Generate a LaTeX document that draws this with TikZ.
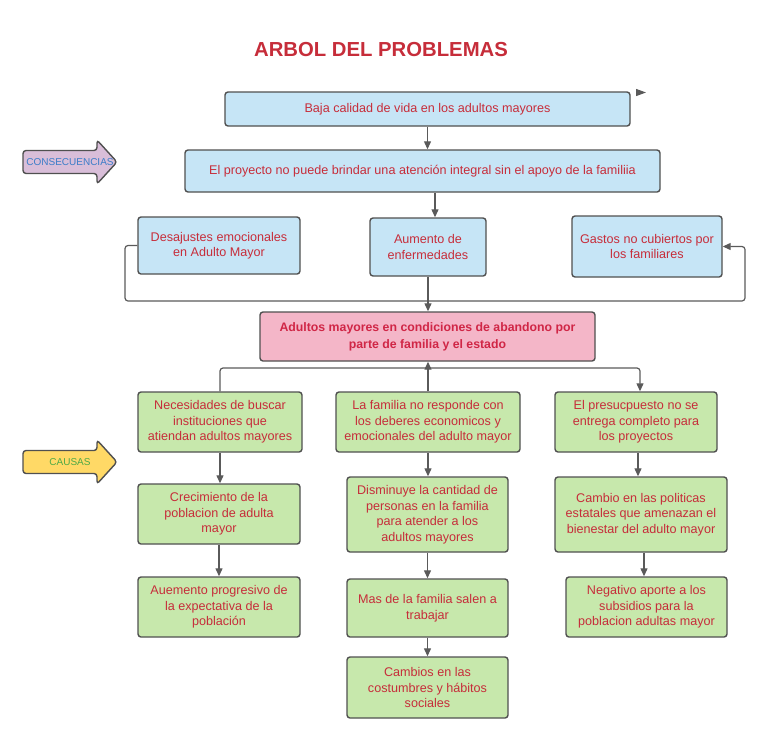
\documentclass[tikz,border=0pt]{standalone}
\usepackage{fontspec}
\setmainfont{Liberation Sans}
\usetikzlibrary{arrows.meta}

\definecolor{txtred}{RGB}{198,45,58}
\definecolor{pinktxt}{RGB}{208,38,70}
\definecolor{boxline}{RGB}{80,80,80}
\definecolor{connline}{RGB}{90,90,90}
\definecolor{bluefill}{RGB}{198,229,246}
\definecolor{pinkfill}{RGB}{244,182,200}
\definecolor{greenfill}{RGB}{199,232,172}
\definecolor{consfill}{RGB}{217,190,217}
\definecolor{constext}{RGB}{60,125,200}
\definecolor{causfill}{RGB}{255,217,102}
\definecolor{caustext}{RGB}{80,170,70}

\begin{document}
\begin{tikzpicture}[x=1pt, y=-1pt,
    box/.style={draw=boxline, line width=1.4pt, rounded corners=3pt, inner sep=0pt,
      align=center, text=txtred, font=\fontsize{12.6}{15.5}\selectfont},
    bluebox/.style={box, fill=bluefill},
    greenbox/.style={box, fill=greenfill},
    pinkbox/.style={box, fill=pinkfill, text=pinktxt, font=\bfseries\fontsize{12.3}{17}\selectfont},
    conn/.style={draw=connline, line width=1.2pt, -{Triangle[length=8pt,width=7pt]}}]
  \useasboundingbox (0,0) rectangle (768,740);

  \node[text=txtred, font=\bfseries\fontsize{20.3}{24}\selectfont] (title) at (381,50) {ARBOL DEL PROBLEMAS};

  % consecuencias
  \foreach \nm/\xc/\yc/\w/\h/\txt in {
      b1/427.5/109/405/34/{Baja calidad de vida en los adultos mayores},
      b2/422.5/171/475/42/{El proyecto no puede brindar una atención integral sin el apoyo de la familiia},
      b3/219/245.5/162/57/{Desajustes emocionales\\en Adulto Mayor},
      b4/428/247/116/58/{Aumento de\\enfermedades},
      b5/647/246.5/150/61/{Gastos no cubiertos por\\los familiares}} {
    \node[bluebox, minimum width=\w pt, minimum height=\h pt] (\nm) at (\xc,\yc) {\txt};
  }

  \node[pinkbox, minimum width=335pt, minimum height=49pt] (pink) at (427.5,336.5)
    {Adultos mayores en condiciones de abandono por\\parte de familia y el estado};

  % causas
  \foreach \nm/\xc/\yc/\w/\h/\txt in {
      g1/220/422/164/60/{Necesidades de buscar\\instituciones que\\atiendan adultos mayores},
      g2/428/422/184/60/{La familia no responde con\\los deberes economicos y\\emocionales del adulto mayor},
      g3/636/422/162/60/{El presucpuesto no se\\entrega completo para\\los proyectos},
      g4/219/514/162/60/{Crecimiento de la\\poblacion de adulta\\mayor},
      g5/427.5/514.5/161/75/{Disminuye la cantidad de\\personas en la familia\\para atender a los\\adultos mayores},
      g6/641/514.5/172/75/{Cambio en las politicas\\estatales que amenazan el\\bienestar del adulto mayor},
      g7/219/607/162/60/{Auemento progresivo de\\la expectativa de la\\población},
      g8/427.5/608/161/58/{Mas de la familia salen a\\trabajar},
      g9/646.5/607/161/60/{Negativo aporte a los\\subsidios para la\\poblacion adultas mayor},
      g10/427.5/687.5/161/61/{Cambios en las\\costumbres y hábitos\\sociales}} {
    \node[greenbox, minimum width=\w pt, minimum height=\h pt] (\nm) at (\xc,\yc) {\txt};
  }

  % block arrows on the left
  \foreach \yy/\fc/\tc/\lab in {162/consfill/constext/CONSECUENCIAS, 462/causfill/caustext/CAUSAS} {
    \draw[fill=\fc, draw=boxline, line width=1.4pt, rounded corners=3pt]
      (23,\yy-11.5) -- (97,\yy-11.5) -- (97,\yy-22) -- (117,\yy) -- (97,\yy+22)
      -- (97,\yy+11.5) -- (23,\yy+11.5) -- cycle;
    \node[text=\tc, font=\fontsize{10}{12}\selectfont] (lab\lab) at (70,\yy) {\lab};
  }

  % connectors
  \coordinate (stray) at (636,92.5);
  \draw[conn, -{Triangle[length=10pt,width=7pt]}] (stray) -- ++(10,0);
  \draw[conn] (b1.south) -- (b2.north -| b1.south);
  \draw[conn] ([xshift=12.5pt]b2.south) -- ([xshift=7pt]b4.north);
  \draw[conn] (b4.south) -- (pink.north -| b4.south);
  \coordinate (loopl) at (125,301);
  \coordinate (loopr) at (745,301);
  \draw[conn, rounded corners=3pt] (b3.west) -| (loopl) -- (loopr) |- (b5.east);

  \coordinate (split) at (428,368);
  \draw[conn, -, rounded corners=3pt] (g1.north) |- (split);
  \draw[conn, rounded corners=3pt] (split) -| ([xshift=4pt]g3.north);
  \draw[conn] (g2.north) -- (pink.south -| g2.north);

  \draw[conn] (g1.south) -- (g4.north -| g1.south);
  \draw[conn] (g4.south) -- (g7.north -| g4.south);
  \draw[conn] (g2.south) -- (g5.north -| g2.south);
  \draw[conn] (g5.south) -- (g8.north);
  \draw[conn] (g8.south) -- (g10.north);
  \draw[conn] ([xshift=2pt]g3.south) -- ([xshift=-3pt]g6.north);
  \draw[conn] ([xshift=3pt]g6.south) -- ([xshift=-2.5pt]g9.north);
\end{tikzpicture}
\end{document}
